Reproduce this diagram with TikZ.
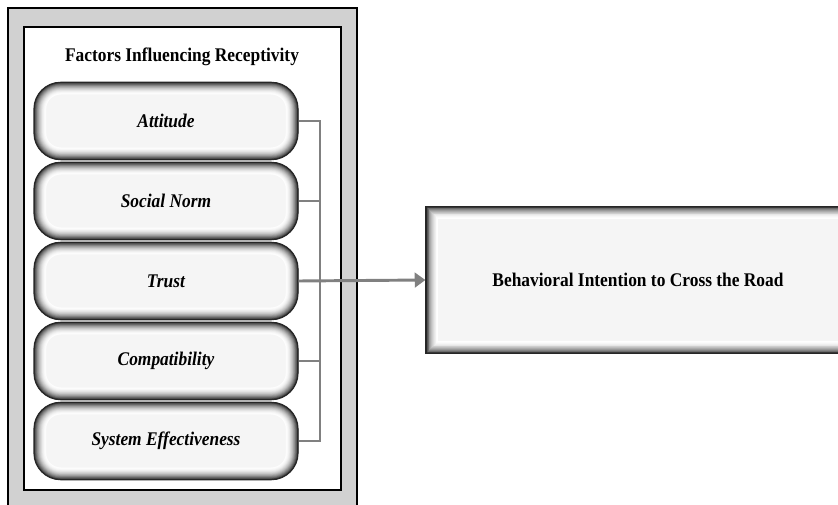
\documentclass[tikz,border=0pt]{standalone}
\usepackage{fontspec}
\setmainfont{Liberation Serif}
\newfontfamily\narrowserif[FakeStretch=0.9]{Liberation Serif}
\usetikzlibrary{arrows.meta,calc}

\tikzset{
  innershade/.style={path picture={
      \foreach \i in {1,...,14}{
        \pgfmathsetmacro\w{(15-\i)*1.3}
        \pgfmathsetmacro\c{\i*\i*0.4}
        \draw[line width=\w pt,color=black!\c,rounded corners=#1]
          (path picture bounding box.south west) rectangle (path picture bounding box.north east);}}},
  factorbox/.style={rectangle,rounded corners=20pt,minimum width=198pt,minimum height=58pt,
      inner sep=0pt,fill=black!4,draw=black!85,line width=0.9pt,innershade=20pt,
      font=\narrowserif\fontsize{14.5}{16}\selectfont\bfseries\itshape},
  targetbox/.style={rectangle,minimum width=318pt,minimum height=110pt,
      inner sep=0pt,fill=black!4,draw=black!85,line width=0.9pt,innershade=0pt,
      font=\narrowserif\fontsize{14.5}{16}\selectfont\bfseries},
  link/.style={line width=2.2pt,color=black!50},
}

\begin{document}
\begin{tikzpicture}[x=0.75pt,y=-0.75pt]
  \useasboundingbox (0,0) rectangle (838,505);
  % frame
  \draw[line width=0.8pt,fill=black!18] (8,8) rectangle (357,530);
  \draw[line width=0.8pt,fill=white] (24,27) rectangle (341,490);
  \node (title) at (182,57) [font=\narrowserif\fontsize{14.5}{16}\selectfont\bfseries] {Factors Influencing Receptivity};

  % factors
  \node (att) at (166,121) [factorbox] {Attitude};
  \node (soc) at (166,201) [factorbox] {Social Norm};
  \node (tru) at (166,281) [factorbox] {Trust};
  \node (com) at (166,361) [factorbox] {Compatibility};
  \node (sys) at (166,441) [factorbox] {System Effectiveness};

  \node (bi) at (638,280) [targetbox] {Behavioral Intention to Cross the Road};

  % connectors
  \coordinate (bus) at (320,121);
  \draw[link] (att.east) -- (att.east -| bus);
  \draw[link] (soc.east) -- (soc.east -| bus);
  \draw[link] (com.east) -- (com.east -| bus);
  \draw[link] (sys.east) -- (sys.east -| bus);
  \draw[link,line cap=rect] (bus |- att.east) -- (bus |- sys.east);
  \draw[link,-{Triangle[length=8pt,width=11pt]}] (tru.east) -- (bi.west);
\end{tikzpicture}
\end{document}
